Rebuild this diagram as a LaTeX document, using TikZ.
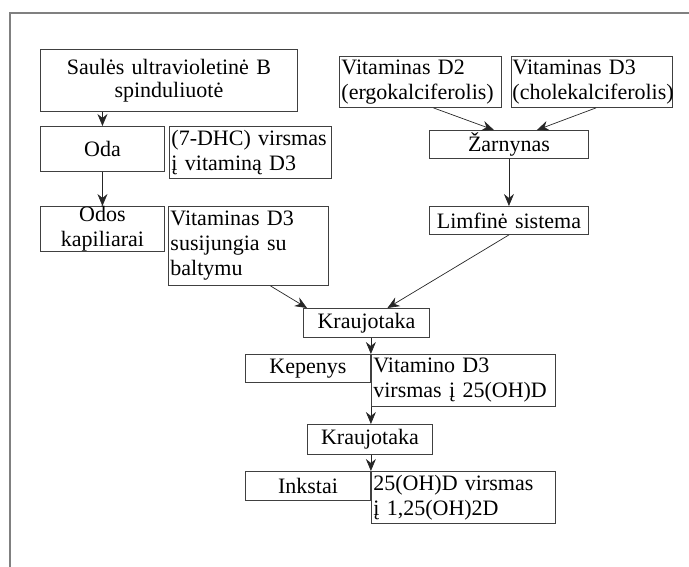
\documentclass[tikz,border=0pt]{standalone}
\usepackage{fontspec}
\setmainfont{Liberation Serif}
\usepackage{tikz}
\usetikzlibrary{arrows.meta,positioning,calc}
\tikzstyle{box} = [draw=black!75,line width=0.9pt,anchor=north west,inner xsep=0pt,inner ysep=0pt,align=center,font=\fontsize{22}{25}\selectfont]
\tikzstyle{lbox} = [box,align=left,inner xsep=2pt]
\tikzstyle{arr} = [-{Stealth[length=12pt,width=10pt,inset=4pt]},line width=0.7pt,black!85]

\begin{document}
\begin{tikzpicture}[x=1pt,y=-1pt]
        \useasboundingbox (0,0) rectangle (689,567);
        \draw[black!50,line width=1.5pt] (10,567) to (10,13) to (689,13);

        \node[box,text width=257pt,minimum height=62pt,font=\fontsize{22}{23}\selectfont] (sun) at (40,49) {Saulės ultravioletinė B\\spinduliuotė};
        \node[box,text width=124pt,minimum height=45pt] (oda) at (40,126) {Oda};
        \node[lbox,text width=158pt,minimum height=52pt] (dhc) at (169,126) {(7-DHC) virsmas\\į vitaminą D3};
        \node[box,text width=124pt,minimum height=45pt] (kap) at (40,206) {Odos\\kapiliarai};
        \node[lbox,text width=156pt,minimum height=79pt] (bind) at (168,206) {Vitaminas D3\\susijungia su\\baltymu};

        \node[lbox,text width=158pt,minimum height=51pt] (d2) at (339,56) {Vitaminas D2\\(ergokalciferolis)};
        \node[lbox,text width=159pt,minimum height=51pt,inner xsep=1pt] (d3) at (511,56) {Vitaminas D3\\(cholekalciferolis)};
        \node[box,text width=159pt,minimum height=28pt] (zarn) at (429,130) {Žarnynas};
        \node[box,text width=159pt,minimum height=28pt] (limf) at (429,206) {Limfinė sistema};

        \node[box,text width=126pt,minimum height=29pt] (krau1) at (303,308) {Kraujotaka};
        \node[box,text width=125pt,minimum height=28pt] (kep) at (245,354) {Kepenys};
        \node[lbox,text width=180pt,minimum height=52pt] (vit25) at (kep.north east) {Vitamino D3\\virsmas į 25(OH)D};
        \node[box,text width=125pt,minimum height=30pt] (krau2) at (307,424) {Kraujotaka};
        \node[box,text width=125pt,minimum height=29pt] (ink) at (245,471) {Inkstai};
        \node[lbox,text width=180pt,minimum height=52pt] (vit125) at (ink.north east) {25(OH)D virsmas\\į 1,25(OH)2D};

        \draw[arr] (sun.south -| oda.north) to (oda.north);
        \draw[arr] (oda.south) to (kap.north);
        \draw[arr] ($(d2.south)+(13,0)$) to ($(zarn.north)+(-15,0)$);
        \draw[arr] ($(d3.south)+(4,0)$) to ($(zarn.north)+(28,0)$);
        \draw[arr] (zarn.south) to (limf.north);
        \draw[arr] ($(bind.south)+(22,0)$) to ($(krau1.north west)+(4,0)$);
        \draw[arr] (limf.south) to ($(krau1.north)+(21,0)$);
        \draw[arr] (krau1.south -| kep.north east) to (kep.north east);
        \draw[arr] (vit25.south west) to (vit25.south west |- krau2.north);
        \draw[arr] (krau2.south -| ink.north east) to (ink.north east);
    \end{tikzpicture}
\end{document}
